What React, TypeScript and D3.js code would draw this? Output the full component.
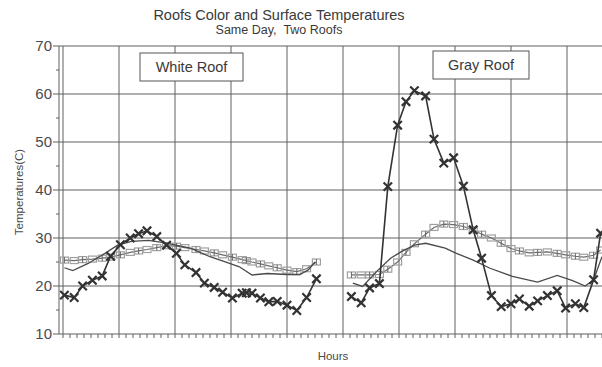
import { scaleLinear, line, range } from "d3";

const W = 602;
const H = 367;

const Y_TICKS = [10, 20, 30, 40, 50, 60, 70];
const Y_MINOR = [15, 25, 35, 45, 55, 65];

// white roof (times in hours from the left edge of the plot)
const whiteTimes = [0.1, 0.8, 1.4, 2.1, 2.8, 3.4, 4.1, 4.8, 5.4, 6.0, 6.7, 7.4, 8.1, 8.7, 9.5, 10.1, 10.8, 11.4, 12.1, 12.8, 13.1, 13.5, 14.1, 14.7, 15.3, 16.0, 16.7, 17.4, 18.1];
const whiteSurface = [18.1, 17.6, 20.0, 21.2, 22.1, 26.2, 28.6, 30.0, 30.9, 31.5, 30.3, 28.5, 26.8, 24.4, 22.8, 20.6, 19.7, 18.7, 17.5, 18.5, 18.6, 18.5, 17.5, 16.7, 16.8, 16.0, 14.9, 17.6, 21.5];
const whiteInside = [25.4, 25.3, 25.5, 25.6, 25.8, 26.0, 26.5, 27.0, 27.3, 27.6, 28.0, 28.4, 28.3, 28.0, 27.6, 27.3, 26.9, 26.5, 26.0, 25.5, 25.3, 25.0, 24.6, 24.2, 23.8, 23.3, 23.0, 23.6, 25.0];
const whiteAirTimes = [0.1, 0.7, 1.8, 3.0, 3.9, 4.9, 6.1, 7.3, 9.1, 10.5, 11.9, 12.6, 13.5, 14.6, 16.0, 16.9, 17.5, 18.0];
const whiteAir = [23.8, 23.2, 24.7, 26.8, 28.5, 29.3, 29.5, 29.0, 27.9, 26.1, 24.7, 24.0, 22.3, 22.6, 22.4, 22.4, 23.3, 25.0];

// gray roof
const grayTimes = [20.6, 21.3, 21.9, 22.6, 23.2, 23.9, 24.5, 25.1, 25.9, 26.5, 27.2, 27.9, 28.6, 29.3, 29.9, 30.6, 31.3, 32.0, 32.6, 33.3, 33.9, 34.6, 35.3, 35.9, 36.6, 37.2, 37.9, 38.4];
const graySurface = [17.8, 16.5, 19.6, 20.5, 40.7, 53.5, 58.4, 60.7, 59.6, 50.6, 45.6, 46.7, 40.8, 31.7, 25.8, 18.0, 15.7, 16.3, 17.3, 15.8, 16.9, 18.0, 19.0, 15.4, 16.3, 15.5, 21.3, 31.0];
const grayInside = [22.3, 22.3, 22.3, 22.4, 23.5, 25.0, 27.0, 28.8, 30.8, 32.2, 32.9, 32.8, 32.4, 31.7, 30.8, 30.0, 28.9, 27.8, 27.3, 26.9, 27.0, 27.1, 26.8, 26.5, 26.2, 26.0, 26.4, 27.5];
const grayAirTimes = [20.7, 21.4, 22.5, 23.4, 24.2, 25.1, 25.9, 27.3, 28.1, 29.3, 30.5, 32.1, 33.9, 35.3, 36.4, 37.3, 37.9, 38.5];
const grayAir = [20.6, 19.9, 23.3, 25.8, 27.2, 28.5, 28.9, 27.9, 26.8, 25.4, 23.7, 22.0, 20.8, 22.2, 21.1, 20.0, 21.3, 26.1];

const GRID_HOURS = [0, 4, 8, 12, 16, 20, 24, 28, 32, 36];
const MINOR_HOURS = range(0, 38.6, 0.5);

const x = scaleLinear().domain([0, 38.5]).range([63, 602]);
const y = scaleLinear().domain([10, 70]).range([334, 46]);

const font = "'Liberation Sans', Arial, sans-serif";
const ink = "#3a3a3a";
const grid = "#606060";

type Pt = [number, number];
const zip = (t: number[], v: number[]): Pt[] => t.map((h, i) => [h, v[i]]);
const path = line<Pt>()
  .x((d) => x(d[0]))
  .y((d) => y(d[1]));

function Cross({ cx, cy }: { cx: number; cy: number }) {
  const s = 4.2;
  return (
    <path
      d={`M${cx - s},${cy - s}L${cx + s},${cy + s}M${cx - s},${cy + s}L${cx + s},${cy - s}`}
      stroke="#333"
      strokeWidth={2.2}
    />
  );
}

function Series({ times, inside, air, surface }: { times: number[]; inside: number[]; air: Pt[]; surface: number[] }) {
  const ins = zip(times, inside);
  const surf = zip(times, surface);
  return (
    <g>
      <path d={path(ins) ?? ""} fill="none" stroke="#6a6a6a" strokeWidth={1.2} />
      {ins.map((d, i) => (
        <rect
          key={"s" + i}
          x={x(d[0]) - 4}
          y={y(d[1]) - 3}
          width={8}
          height={6}
          fill="none"
          stroke="#a0a0a0"
          strokeWidth={1.2}
        />
      ))}
      {ins.map((d, i) =>
        i % 2 === 0 ? (
          <line key={"t" + i} x1={x(d[0])} x2={x(d[0])} y1={y(d[1]) - 3} y2={y(d[1]) + 3} stroke="#666" strokeWidth={1} />
        ) : null
      )}
      <path d={path(air) ?? ""} fill="none" stroke="#4a4a4a" strokeWidth={1.3} />
      <path d={path(surf) ?? ""} fill="none" stroke="#333" strokeWidth={1.6} />
      {surf.map((d, i) => (
        <Cross key={"x" + i} cx={x(d[0])} cy={y(d[1])} />
      ))}
    </g>
  );
}

export default function App() {
  return (
    <svg
      width={W}
      height={H}
      style={{ position: "absolute", left: 0, top: 0, background: "#fff" }}
      fontFamily={font}
    >
      <rect width={W} height={H} fill="#fff" />
      <text x={279} y={20} textAnchor="middle" fontSize={14.5} fill={ink}>
        Roofs Color and Surface Temperatures
      </text>
      <text x={279} y={34} textAnchor="middle" fontSize={12.5} fill={ink} style={{ whiteSpace: "pre" }}>
        {"Same Day,\u00a0\u00a0Two Roofs"}
      </text>

      {/* horizontal grid */}
      {Y_TICKS.filter((v) => v > 10).map((v) => (
        <line key={"h" + v} x1={59} x2={W} y1={y(v)} y2={y(v)} stroke={grid} strokeWidth={1} />
      ))}
      {/* vertical grid */}
      {GRID_HOURS.map((h) => (
        <line key={"v" + h} x1={x(h)} x2={x(h)} y1={y(70)} y2={y(10)} stroke={grid} strokeWidth={1} />
      ))}
      {/* axes */}
      <line x1={59} x2={59} y1={y(70)} y2={y(10)} stroke={grid} strokeWidth={1} />
      <line x1={59} x2={W} y1={y(10)} y2={y(10)} stroke={grid} strokeWidth={1.2} />
      {MINOR_HOURS.map((h) => (
        <line key={"m" + h} x1={x(h)} x2={x(h)} y1={y(10)} y2={y(10) + 4} stroke={grid} strokeWidth={1} />
      ))}
      {Y_TICKS.map((v) => (
        <g key={"yt" + v}>
          <line x1={53} x2={59} y1={y(v)} y2={y(v)} stroke={grid} strokeWidth={1} />
          <text x={52} y={y(v) + 5} textAnchor="end" fontSize={15} fill="#4a4a4a">
            {v}
          </text>
        </g>
      ))}
      {Y_MINOR.map((v) => (
        <line key={"ym" + v} x1={56} x2={59} y1={y(v)} y2={y(v)} stroke={grid} strokeWidth={1} />
      ))}

      <text
        transform={`translate(23,192) rotate(-90)`}
        textAnchor="middle"
        fontSize={11.5}
        fill="#4a4a4a"
      >
        Temperatures(C)
      </text>
      <text x={333} y={360} textAnchor="middle" fontSize={11.5} fill="#4a4a4a">
        Hours
      </text>

      <Series times={whiteTimes} inside={whiteInside} air={zip(whiteAirTimes, whiteAir)} surface={whiteSurface} />
      <Series times={grayTimes} inside={grayInside} air={zip(grayAirTimes, grayAir)} surface={graySurface} />

      <rect x={140} y={53} width={103} height={28} fill="#fff" stroke="#555" strokeWidth={1} />
      <text x={191.5} y={72} textAnchor="middle" fontSize={14.5} fill={ink}>
        White Roof
      </text>
      <rect x={433} y={51} width={96} height={28} fill="#fff" stroke="#555" strokeWidth={1} />
      <text x={481} y={70} textAnchor="middle" fontSize={14.5} fill={ink}>
        Gray Roof
      </text>
    </svg>
  );
}
